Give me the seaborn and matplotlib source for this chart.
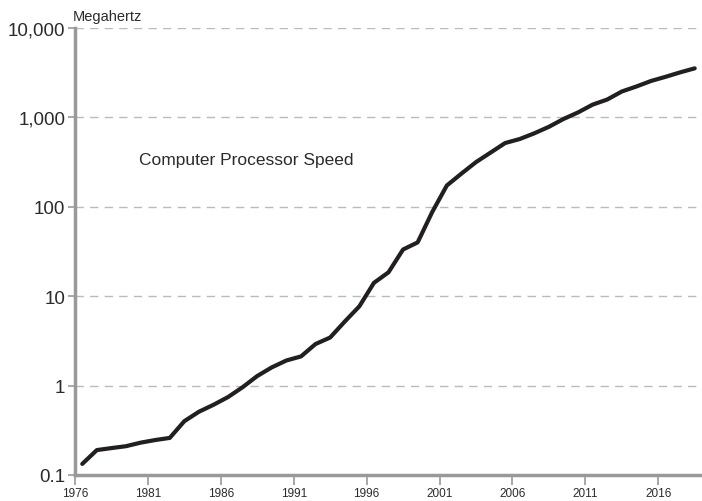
import matplotlib
matplotlib.use("Agg")
import matplotlib.pyplot as plt
import matplotlib.ticker as mticker
import seaborn as sns
import pandas as pd

# --- DATA (values in MHz) ---
years = [y + 0.5 for y in range(1976, 2019)]
speed_mhz = [0.133, 0.19, 0.20, 0.21, 0.23, 0.246, 0.26, 0.40, 0.51, 0.61,
             0.745, 0.96, 1.28, 1.60, 1.91, 2.12, 2.92, 3.45, 5.2, 7.7,
             14.1, 18.5, 33.3, 40, 87.5, 173, 235, 316, 404, 517,
             573, 664, 785, 960, 1137, 1390, 1585, 1949, 2217, 2555,
             2845, 3190, 3540]
x_ticks = [1976, 1981, 1986, 1991, 1996, 2001, 2006, 2011, 2016]
y_ticks = [0.1, 1, 10, 100, 1000, 10000]
y_labels = ["0.1", "1", "10", "100", "1,000", "10,000"]

df = pd.DataFrame({"year": years, "mhz": speed_mhz})

sns.set_theme(style="white")
plt.rcParams["font.family"] = ["Liberation Sans Narrow", "Liberation Sans", "DejaVu Sans"]

text_color = "#2b2b2b"
spine_color = "#999999"

fig = plt.figure(figsize=(7.02, 5.02), dpi=100)
ax = fig.add_axes([0.1068, 0.0518, 0.8932, 0.8904])

sns.lineplot(data=df, x="year", y="mhz", color="#231f20", linewidth=3.0, ax=ax)

ax.set_yscale("log")
ax.set_ylim(0.1, 10000)
ax.set_xlim(1976, 2019)

ax.set_yticks(y_ticks)
ax.set_yticklabels(y_labels)
ax.yaxis.set_minor_locator(mticker.NullLocator())
ax.set_xticks(x_ticks)
ax.set_xticklabels([str(t) for t in x_ticks])

ax.tick_params(axis="y", which="major", length=5, width=1.2, color=spine_color,
               labelsize=13.5, labelcolor=text_color, pad=2, left=True)
ax.tick_params(axis="x", which="major", length=7, width=1.2, color=spine_color,
               labelsize=8.5, labelcolor=text_color, pad=2, bottom=True, direction="out")

for tick in ax.yaxis.get_major_ticks():
    tick.gridline.set_visible(False)
for y in y_ticks[1:]:
    ax.axhline(y, color="#bbbbbb", linewidth=1.0, linestyle=(0, (6, 4.5)), zorder=0)

ax.grid(False)
for side in ["top", "right"]:
    ax.spines[side].set_visible(False)
for side in ["left", "bottom"]:
    ax.spines[side].set_color(spine_color)
    ax.spines[side].set_linewidth(2.5)

ax.set_xlabel("")
ax.set_ylabel("")

fig.text(0.104, 0.952, "Megahertz", fontsize=10.5, color=text_color, ha="left", va="bottom")
ax.text(1980.4, 340, "Computer Processor Speed", fontsize=12.5, color=text_color,
        ha="left", va="center")

fig.savefig("out.png", dpi=100)
